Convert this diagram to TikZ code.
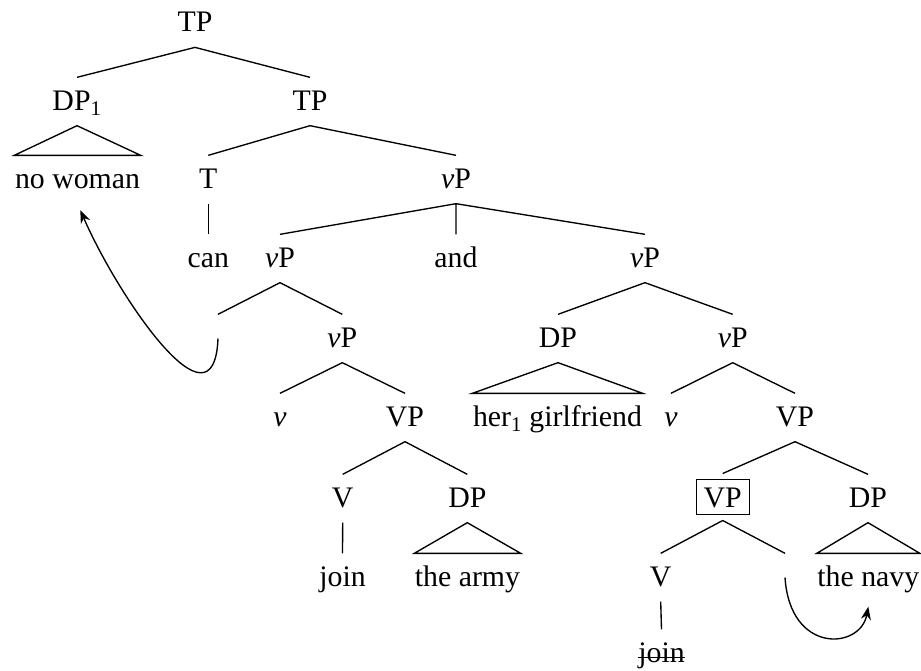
\documentclass[tikz,border=0pt]{standalone}
\usepackage{fontspec}
\setmainfont{Liberation Serif}
\usetikzlibrary{arrows.meta}

\tikzset{
  tn/.style={anchor=base, inner sep=0pt, text height=32pt, text depth=15pt,
    font=\fontsize{29.8}{36}\selectfont},
  boxed/.style={tn, draw, line width=1pt, text height=20pt, text depth=0pt,
    inner xsep=7.5pt, inner ysep=7.5pt, outer xsep=0pt, outer ysep=6pt},
  mv/.style={-{Stealth[length=13pt,width=10pt]}}
}

\begin{document}
\begin{tikzpicture}[x=1pt, y=-1pt, line width=1.35pt]
        \useasboundingbox (0,0) rectangle (921,670);

        % Place the labels, row by row
        \node[tn] (tp0) at (195,31.7) {TP};
        \node[tn] (dp1) at (77,110) {DP\textsubscript{1}};
        \node[tn] (tp1) at (310,110) {TP};
        \node[tn] (nw) at (77.5,188) {no woman};
        \node[tn] (t) at (208.3,188) {T};
        \node[tn] (vp1) at (456,188) {\textit{v}P};
        \node[tn] (can) at (208.3,267) {can};
        \node[tn] (vp2) at (280,267) {\textit{v}P};
        \node[tn] (and) at (456,267) {and};
        \node[tn] (vp3) at (645,267) {\textit{v}P};
        \node[tn] (tr1) at (218,347) {};
        \node[tn] (vp4) at (342.3,347) {\textit{v}P};
        \node[tn] (dp2) at (558,347) {DP};
        \node[tn] (vp5) at (732.7,347) {\textit{v}P};
        \node[tn] (v1) at (280,426) {\textit{v}};
        \node[tn] (vp6) at (405,426) {VP};
        \node[tn] (hg) at (557.5,426) {her\textsubscript{1} girlfriend};
        \node[tn] (v2) at (671,426) {\textit{v}};
        \node[tn] (vp7) at (795,426) {VP};
        \node[tn] (vv1) at (342.7,507) {V};
        \node[tn] (dp3) at (467.3,507) {DP};
        \node[boxed] (vpb) at (722.7,507) {VP};
        \node[tn] (dp4) at (868,507) {DP};
        \node[tn] (join1) at (342.5,586) {join};
        \node[tn] (army) at (467.5,586) {the army};
        \node[tn] (vv2) at (660.7,586) {V};
        \node[tn] (tr2) at (785,586) {};
        \node[tn] (navy) at (868.3,586) {the navy};
        \node[tn] (join2) at (661.5,662) {join};

        % Draw the branches
        \draw (tp0.south) -- (dp1.north) (tp0.south) -- (tp1.north);
        \draw (tp1.south) -- (t.north) (tp1.south) -- (vp1.north);
        \draw (t.south) -- (can.north);
        \draw (vp1.south) -- (vp2.north) (vp1.south) -- (and.north) (vp1.south) -- (vp3.north);
        \draw (vp2.south) -- (tr1.north) (vp2.south) -- (vp4.north);
        \draw (vp3.south) -- (dp2.north) (vp3.south) -- (vp5.north);
        \draw (vp4.south) -- (v1.north) (vp4.south) -- (vp6.north);
        \draw (vp5.south) -- (v2.north) (vp5.south) -- (vp7.north);
        \draw (vp6.south) -- (vv1.north) (vp6.south) -- (dp3.north);
        \draw (vp7.south) -- (vpb.north) (vp7.south) -- (dp4.north);
        \draw (vv1.south) -- (join1.north);
        \draw (vpb.south) -- (vv2.north) (vpb.south) -- (tr2.north);
        \draw (vv2.south) -- (join2.north);

        % Draw the triangles
        \draw (dp1.south) -- (nw.north west) -- (nw.north east) -- cycle;
        \draw (dp2.south) -- (hg.north west) -- (hg.north east) -- cycle;
        \draw (dp3.south) -- (army.north west) -- (army.north east) -- cycle;
        \draw (dp4.south) -- (navy.north west) -- (navy.north east) -- cycle;

        % Strike out the lower copy
        \draw[line width=1pt] ([yshift=5pt]join2.base west) -- ([yshift=5pt]join2.base east);

        % Draw the movement arrows
        \draw[mv, shorten >=7pt] (tr1.center) .. controls +(-4,100) and +(40,92) .. (nw.south);
        \draw[mv] (tr2.center) .. controls +(5,77) and +(-8,43) .. ([yshift=-5pt]navy.south);

    \end{tikzpicture}
\end{document}
